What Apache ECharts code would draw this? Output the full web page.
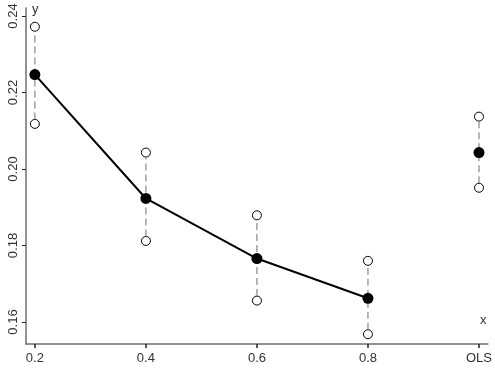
<!DOCTYPE html>
<html>
<head>
<meta charset="utf-8">
<script src="https://cdn.jsdelivr.net/npm/echarts@6/dist/echarts.min.js"></script>
<style>
  html, body { margin: 0; padding: 0; background: #fff; }
  #chart { width: 495px; height: 373px; }
</style>
</head>
<body>
<div id="chart"></div>
<script>
const CATEGORIES = ['0.2', '0.4', '0.6', '0.8', 'OLS']
const MEANS = [0.2247, 0.1923, 0.1766, 0.1662, 0.2043]
const UPPER = [0.2372, 0.2043, 0.1879, 0.1760, 0.2137]
const LOWER = [0.2118, 0.1812, 0.1656, 0.1568, 0.1951]
const Y_TICKS = [0.16, 0.18, 0.20, 0.22, 0.24]

const AXIS_COLOR = '#6e6e6e'
const TEXT_COLOR = '#333'
const FONT = 'Liberation Sans, Arial, sans-serif'
const END_R = 4.5

const chart = echarts.init(document.getElementById('chart'))

const intervals = CATEGORIES.map((c, i) => [i, LOWER[i], UPPER[i]])

const endPoints = []
CATEGORIES.forEach((c, i) => {
  endPoints.push([i, UPPER[i]])
  endPoints.push([i, LOWER[i]])
})

const lastLine = CATEGORIES.length - 1 // OLS is not connected

chart.setOption({
  animation: false,
  grid: { left: 26, right: 7, top: 8, bottom: 29 },
  xAxis: {
    type: 'value',
    min: -0.08,
    max: 4.08,
    axisLine: { onZero: false, lineStyle: { color: AXIS_COLOR, width: 1.5 } },
    axisTick: { show: true, length: 4, lineStyle: { color: '#222', width: 1.5 }, customValues: [0, 1, 2, 3, 4] },
    axisLabel: {
      customValues: [0, 1, 2, 3, 4],
      formatter: (v) => CATEGORIES[Math.round(v)],
      color: TEXT_COLOR, fontSize: 13, fontFamily: FONT, margin: 8
    },
    splitLine: { show: false }
  },
  yAxis: {
    type: 'value',
    min: 0.15425,
    max: 0.2421,
    axisLine: { show: true, onZero: false, lineStyle: { color: AXIS_COLOR, width: 1.5 } },
    axisTick: { show: true, length: 4, lineStyle: { color: '#222', width: 1 }, customValues: Y_TICKS },
    axisLabel: {
      customValues: Y_TICKS,
      formatter: (v) => v.toFixed(2),
      rotate: 90,
      color: TEXT_COLOR, fontSize: 13, fontFamily: FONT, margin: 6
    },
    splitLine: { show: false }
  },
  graphic: [
    { type: 'text', left: 32, top: 3, style: { text: 'y', fill: TEXT_COLOR, font: '13px ' + FONT } },
    { type: 'text', left: 480, top: 314, style: { text: 'x', fill: TEXT_COLOR, font: '13px ' + FONT } }
  ],
  series: [
    {
      type: 'line',
      data: MEANS.slice(0, lastLine).map((v, i) => [i, v]),
      showSymbol: false,
      symbol: 'none',
      z: 2,
      lineStyle: { color: '#000', width: 2 }
    },
    {
      type: 'scatter',
      data: endPoints,
      symbol: 'circle',
      symbolSize: 9,
      z: 3,
      itemStyle: { color: '#fff', borderColor: '#000', borderWidth: 1, opacity: 1 }
    },
    {
      // dashed intervals, drawn between the open circles
      type: 'custom',
      data: intervals,
      z: 6,
      clip: false,
      silent: true,
      encode: { x: 0, y: [1, 2] },
      renderItem: (params, api) => {
        const lo = api.coord([api.value(0), api.value(1)])
        const hi = api.coord([api.value(0), api.value(2)])
        return {
          type: 'line',
          shape: { x1: lo[0], y1: lo[1] - END_R, x2: hi[0], y2: hi[1] + END_R },
          style: { stroke: '#888888', lineWidth: 1.2, lineDash: [7, 4] }
        }
      }
    },
    {
      type: 'scatter',
      data: MEANS.map((v, i) => [i, v]),
      symbol: 'circle',
      symbolSize: 11,
      z: 8,
      itemStyle: { color: '#000', opacity: 1 }
    }
  ]
})
</script>
</body>
</html>
